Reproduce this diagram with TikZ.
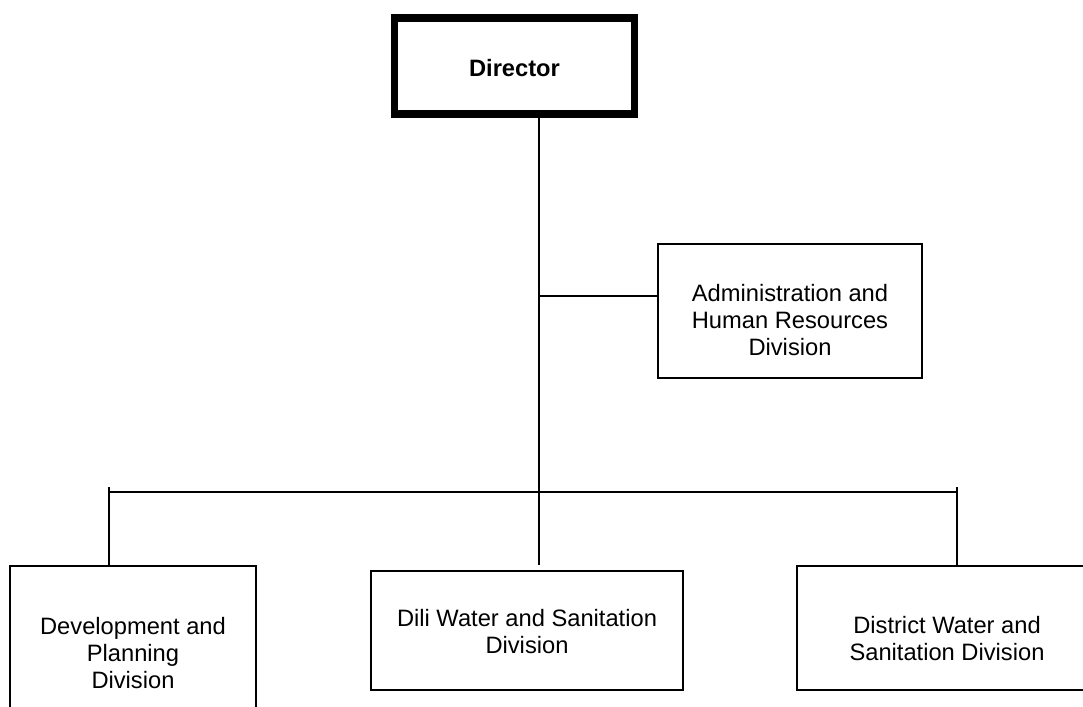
\documentclass[tikz,border=0pt]{standalone}
\usepackage{fontspec}
\setmainfont{Liberation Sans}
\begin{document}
\begin{tikzpicture}[x=1pt,y=-1pt,
  box/.style={draw=black,line width=1.5pt,inner sep=0pt,fill=none},
  dirbox/.style={draw=black,line width=7.5pt,inner sep=0pt},
  lbl/.style={align=center,inner sep=0pt,font=\fontsize{23.7}{27}\selectfont},
  conn/.style={draw=black,line width=1.5pt}]
\clip (0,0) rectangle (1083,706);
\fill[white] (0,0) rectangle (1083,706);
% boxes
\node[dirbox,minimum width=240pt,minimum height=96pt] (dir) at (514.5,66) {};
\node[lbl,font=\fontsize{23.7}{27}\selectfont\bfseries] (dirt) at (514.5,68) {Director};
\node[box,minimum width=264pt,minimum height=134pt] (adm) at (790,311) {};
\node[lbl] (admt) at (790,320) {Administration and\\Human Resources\\Division};
\node[box,minimum width=246pt,minimum height=174pt] (dev) at (133,653) {};
\node[lbl] (devt) at (133,653) {Development and\\Planning\\Division};
\node[box,minimum width=312pt,minimum height=119pt] (dili) at (527,630.5) {};
\node[lbl] (dilit) at (527,631.5) {Dili Water and Sanitation\\Division};
\node[box,minimum width=300pt,minimum height=124pt] (dist) at (947,628) {};
\node[lbl] (distt) at (947,639) {District Water and\\Sanitation Division};
% connector coordinates
\coordinate (spineTop) at (539,114);
\coordinate (spineEnd) at (539,565);
\coordinate (adminJoin) at (539,296);
\coordinate (busL) at (109,492);
\coordinate (busR) at (957,492);
\coordinate (tickL) at (109,487);
\coordinate (tickR) at (957,487);
% connectors
\draw[conn] (spineTop) -- (spineEnd);
\draw[conn] (adminJoin) -- (adminJoin -| adm.west);
\draw[conn] (busL) -- (busR);
\draw[conn] (tickL) -- (tickL |- dev.north);
\draw[conn] (tickR) -- (tickR |- dist.north);
\end{tikzpicture}
\end{document}
